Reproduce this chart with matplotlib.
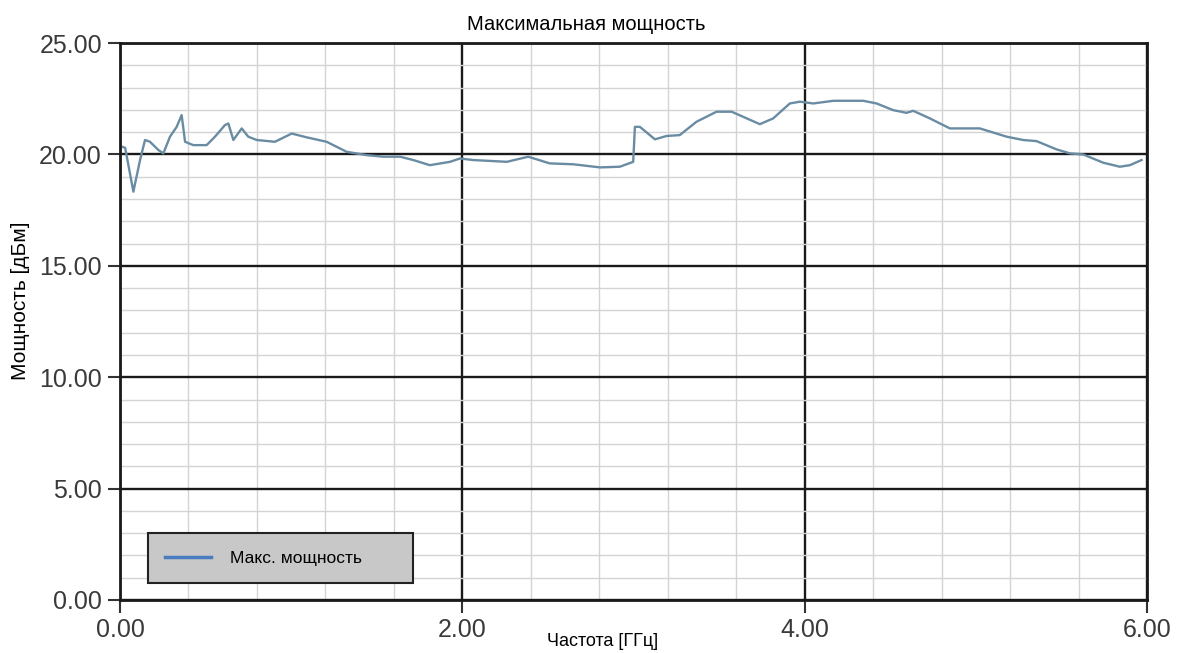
import matplotlib.pyplot as plt
from matplotlib.ticker import MultipleLocator, FormatStrFormatter

# frequency (GHz) and max power (dBm)
freq = [0.01, 0.03, 0.078, 0.117, 0.146, 0.175, 0.224, 0.253, 0.292, 0.331, 0.36, 0.38,
        0.428, 0.506, 0.555, 0.613, 0.633, 0.662, 0.711, 0.749, 0.798, 0.905, 1.003,
        1.09, 1.207, 1.324, 1.441, 1.538, 1.636, 1.713, 1.81, 1.928, 1.986, 2.064, 2.26,
        2.385, 2.51, 2.648, 2.804, 2.92, 2.998, 3.008, 3.037, 3.125, 3.193, 3.27, 3.368,
        3.485, 3.573, 3.738, 3.816, 3.913, 3.972, 4.05, 4.167, 4.342, 4.42, 4.517, 4.595,
        4.634, 4.731, 4.848, 5.023, 5.179, 5.276, 5.354, 5.471, 5.549, 5.627, 5.744,
        5.841, 5.9, 5.968]
power = [20.35, 20.3, 18.33, 19.75, 20.65, 20.57, 20.2, 20.05, 20.8, 21.24, 21.77, 20.57,
         20.42, 20.42, 20.8, 21.32, 21.39, 20.65, 21.17, 20.8, 20.65, 20.57, 20.94,
         20.77, 20.57, 20.12, 19.97, 19.9, 19.9, 19.75, 19.52, 19.67, 19.82, 19.75, 19.67,
         19.9, 19.6, 19.56, 19.42, 19.45, 19.67, 21.24, 21.24, 20.68, 20.83, 20.87, 21.47,
         21.92, 21.92, 21.36, 21.62, 22.29, 22.37, 22.29, 22.41, 22.41, 22.29, 21.99, 21.87,
         21.96, 21.62, 21.17, 21.17, 20.8, 20.65, 20.6, 20.23, 20.05, 20.0, 19.63,
         19.45, 19.52, 19.75]

plt.rcParams['font.family'] = ['Liberation Sans', 'DejaVu Sans']

fig = plt.figure(figsize=(11.79, 6.53), dpi=100)
ax = fig.add_axes([0.1018, 0.0812, 0.8711, 0.8528])

ax.plot(freq, power, color='#6a8ca3', linewidth=1.7, label='Макс. мощность')

ax.set_xlim(0, 6)
ax.set_ylim(0, 25)
ax.xaxis.set_major_locator(MultipleLocator(2))
ax.xaxis.set_minor_locator(MultipleLocator(0.4))
ax.yaxis.set_major_locator(MultipleLocator(5))
ax.yaxis.set_minor_locator(MultipleLocator(1))
ax.xaxis.set_major_formatter(FormatStrFormatter('%.2f'))
ax.yaxis.set_major_formatter(FormatStrFormatter('%.2f'))

ax.grid(True, which='major', color='#1a1a1a', linewidth=1.7)
ax.grid(True, which='minor', color='#d4d4d4', linewidth=1.0)
ax.set_axisbelow(True)
for s in ax.spines.values():
    s.set_linewidth(2)
    s.set_color('#1a1a1a')

ax.tick_params(which='major', length=9, width=1.5, color='#333333',
               labelsize=18, labelcolor='#3a3a3a', pad=4)
ax.tick_params(which='minor', length=0)

fig.text(0.497, 0.962, 'Максимальная мощность', ha='center', va='center', fontsize=14.5)
fig.text(0.511, 0.017, 'Частота [ГГц]', ha='center', va='center', fontsize=13)
fig.text(0.017, 0.539, 'Мощность [дБм]', ha='center', va='center', rotation=90, fontsize=15)

leg = ax.legend(loc='lower left', bbox_to_anchor=(0.0273, 0.0305, 0.258, 0.0916),
                mode='expand', fancybox=False, facecolor='#c8c8c8', edgecolor='#222222',
                framealpha=1, fontsize=12.5, handlelength=2.6, handletextpad=1.1,
                borderpad=1.0, borderaxespad=0)
leg.get_frame().set_linewidth(1.5)
leg.get_lines()[0].set_color('#4a7cc0')
leg.get_lines()[0].set_linewidth(2.5)

fig.savefig('out.png', dpi=100)
